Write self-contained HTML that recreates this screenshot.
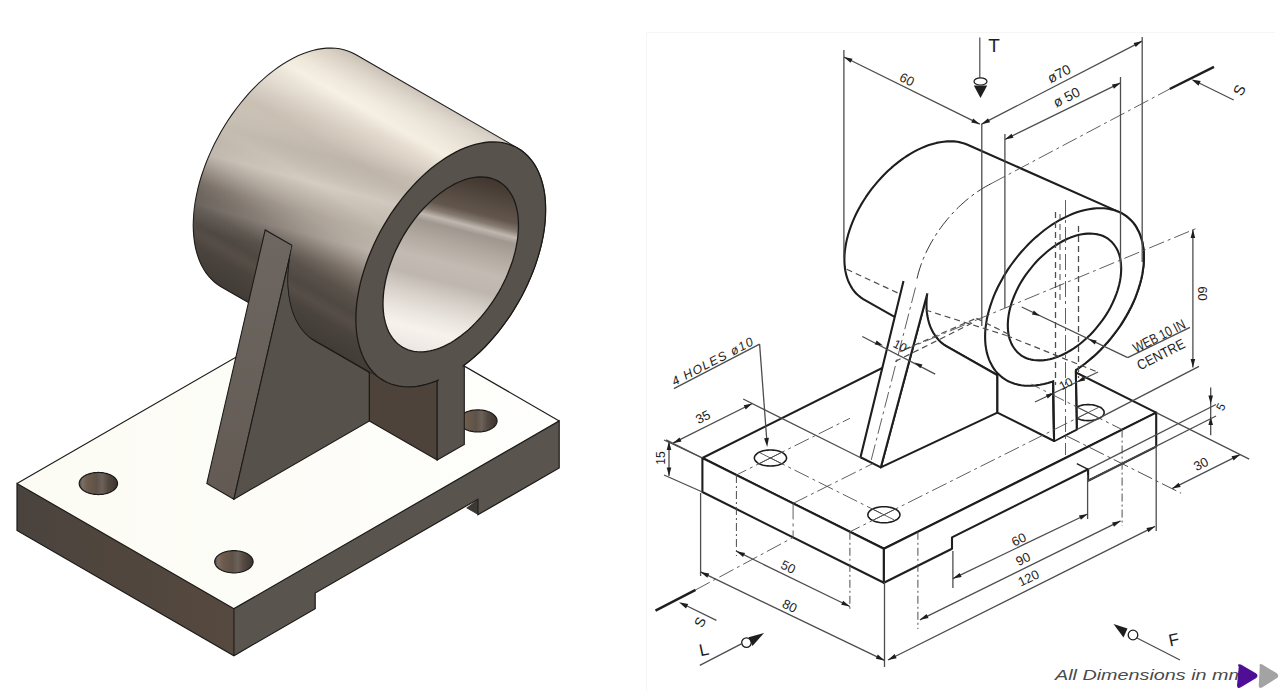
<!DOCTYPE html>
<html><head><meta charset="utf-8"><style>
html,body{margin:0;padding:0;background:#fff;width:1280px;height:691px;overflow:hidden;font-family:"Liberation Sans",sans-serif}
svg{position:absolute;left:0;top:0}
</style></head><body>
<svg width="1280" height="691" viewBox="0 0 1280 691">
<rect width="1280" height="691" fill="#fff"/>
<path d="M646.5,691 L646.5,32.5 L1275,32.5" fill="none" stroke="#f5f5f5" stroke-width="1"/>
<defs>
<linearGradient id="cyl" gradientUnits="userSpaceOnUse" x1="65.5" y1="-113.4" x2="-69.0" y2="119.5"><stop offset="0.000" stop-color="#c9c0b5"/><stop offset="0.041" stop-color="#d9d0c3"/><stop offset="0.115" stop-color="#ede5d7"/><stop offset="0.160" stop-color="#f4ede0"/><stop offset="0.208" stop-color="#e5dccf"/><stop offset="0.283" stop-color="#d4cabe"/><stop offset="0.346" stop-color="#c9bfb3"/><stop offset="0.424" stop-color="#cbc2b6"/><stop offset="0.494" stop-color="#cfc6ba"/><stop offset="0.561" stop-color="#c3b9ad"/><stop offset="0.610" stop-color="#b3a99f"/><stop offset="0.654" stop-color="#9d9389"/><stop offset="0.691" stop-color="#877d74"/><stop offset="0.736" stop-color="#6f665e"/><stop offset="0.784" stop-color="#59514a"/><stop offset="0.840" stop-color="#4f4842"/><stop offset="0.874" stop-color="#564d46"/><stop offset="0.911" stop-color="#4b443e"/><stop offset="0.955" stop-color="#46403a"/><stop offset="1.000" stop-color="#423b36"/></linearGradient>
<linearGradient id="cylband" gradientUnits="userSpaceOnUse" x1="10.4" y1="-38.6" x2="-67.6" y2="251.2"><stop offset="0" stop-color="#fff" stop-opacity="0"/><stop offset="0.15" stop-color="#fff" stop-opacity="0.18"/><stop offset="0.25" stop-color="#fff" stop-opacity="0"/><stop offset="0.35" stop-color="#000" stop-opacity="0.05"/><stop offset="0.45" stop-color="#fff" stop-opacity="0.12"/><stop offset="0.55" stop-color="#000" stop-opacity="0.06"/><stop offset="0.62" stop-color="#fff" stop-opacity="0.1"/><stop offset="0.7" stop-color="#fff" stop-opacity="0"/><stop offset="1" stop-color="#fff" stop-opacity="0"/></linearGradient>
<radialGradient id="cylshade" gradientUnits="userSpaceOnUse" cx="200" cy="270" r="80"><stop offset="0" stop-color="#3a2e26" stop-opacity="0.2"/><stop offset="1" stop-color="#3a2e26" stop-opacity="0"/></radialGradient>
<linearGradient id="bore" gradientUnits="userSpaceOnUse" x1="-12.5" y1="48.3" x2="-59.2" y2="229.1"><stop offset="0" stop-color="#40362f"/><stop offset="0.08" stop-color="#4e433a"/><stop offset="0.2" stop-color="#62564d"/><stop offset="0.24" stop-color="#857a70"/><stop offset="0.275" stop-color="#c0b8b0"/><stop offset="0.31" stop-color="#a09890"/><stop offset="0.4" stop-color="#b2aaa1"/><stop offset="0.5" stop-color="#c3bbb3"/><stop offset="0.6" stop-color="#bfb7af"/><stop offset="0.7" stop-color="#d8d1ca"/><stop offset="0.8" stop-color="#ebe6e0"/><stop offset="0.88" stop-color="#f6f2ec"/><stop offset="1" stop-color="#ebe6e1"/></linearGradient>
<linearGradient id="topf" x1="0" y1="0" x2="1" y2="0"><stop offset="0" stop-color="#fcfbf3"/><stop offset="1" stop-color="#fefefc"/></linearGradient>
<linearGradient id="hole" x1="0" y1="0" x2="1" y2="0"><stop offset="0" stop-color="#4a4440"/><stop offset="0.08" stop-color="#7a7068"/><stop offset="0.2" stop-color="#6e5c4c"/><stop offset="0.45" stop-color="#5e5248"/><stop offset="0.6" stop-color="#6c625a"/><stop offset="0.75" stop-color="#554a42"/><stop offset="1" stop-color="#3a332e"/></linearGradient>
<linearGradient id="lface" gradientUnits="userSpaceOnUse" x1="16" y1="0" x2="234" y2="0"><stop offset="0" stop-color="#4a433d"/><stop offset="1" stop-color="#56493f"/></linearGradient>
<linearGradient id="strip" x1="0" y1="0" x2="0" y2="1"><stop offset="0" stop-color="#6e6761"/><stop offset="1" stop-color="#625a53"/></linearGradient>
</defs>
<path d="M233.9,608.7 L559.2,420.9 L342.3,295.7 L17.0,483.5 Z" fill="url(#topf)"/>
<path d="M233.9,608.7 L17.0,483.5 L17.0,530.5 L233.9,655.7 Z" fill="url(#lface)"/>
<path d="M233.9,608.7 L559.2,420.9 L559.2,467.9 L477.9,514.8 L477.9,499.2 L315.2,593.0 L315.2,608.7 L233.9,655.7 Z" fill="#59544e"/>
<path d="M477.9,499.2 L477.9,514.8 L466.1,508.0 Z" fill="#3e3833"/>
<path d="M233.9,655.7 L233.9,608.7 L559.2,420.9 L559.2,467.9 L477.9,514.8 L477.9,499.2 L315.2,593.0 L315.2,608.7 L233.9,655.7 L17.0,530.5 L17.0,483.5 L233.9,608.7" fill="none" stroke="#1c1a18" stroke-width="1.2"/>
<path d="M17.0,483.5 L342.3,295.7 L559.2,420.9" fill="none" stroke="#1c1a18" stroke-width="1.1"/>
<path d="M247.5,553.9 L246.3,553.3 L245.2,552.8 L243.9,552.3 L242.6,551.9 L241.2,551.5 L239.8,551.2 L238.4,551.0 L236.9,550.8 L235.4,550.7 L233.9,550.7 L232.4,550.7 L230.9,550.8 L229.4,551.0 L228.0,551.2 L226.6,551.5 L225.2,551.9 L223.9,552.3 L222.6,552.8 L221.5,553.3 L220.3,553.9 L219.3,554.6 L218.4,555.2 L217.6,556.0 L216.8,556.7 L216.2,557.5 L215.7,558.3 L215.3,559.2 L215.0,560.0 L214.8,560.9 L214.7,561.8 L214.8,562.6 L215.0,563.5 L215.3,564.3 L215.7,565.2 L216.2,566.0 L216.8,566.8 L217.6,567.5 L218.4,568.3 L219.3,568.9 L220.3,569.6 L221.5,570.2 L222.6,570.7 L223.9,571.2 L225.2,571.6 L226.6,572.0 L228.0,572.3 L229.4,572.5 L230.9,572.7 L232.4,572.8 L233.9,572.8 L235.4,572.8 L236.9,572.7 L238.4,572.5 L239.8,572.3 L241.2,572.0 L242.6,571.6 L243.9,571.2 L245.2,570.7 L246.3,570.2 L247.5,569.6 L248.5,568.9 L249.4,568.3 L250.2,567.5 L251.0,566.8 L251.6,566.0 L252.1,565.2 L252.5,564.3 L252.8,563.5 L253.0,562.6 L253.1,561.8 L253.0,560.9 L252.8,560.0 L252.5,559.2 L252.1,558.3 L251.6,557.5 L251.0,556.7 L250.2,556.0 L249.4,555.2 L248.5,554.6 L247.5,553.9 Z" fill="url(#hole)" stroke="#1c1a18" stroke-width="1.2"/>
<path d="M111.9,475.7 L110.8,475.1 L109.6,474.5 L108.4,474.1 L107.1,473.6 L105.7,473.3 L104.3,473.0 L102.8,472.7 L101.4,472.6 L99.9,472.5 L98.4,472.4 L96.9,472.5 L95.4,472.6 L93.9,472.7 L92.4,473.0 L91.0,473.3 L89.7,473.6 L88.4,474.1 L87.1,474.5 L85.9,475.1 L84.8,475.7 L83.8,476.3 L82.9,477.0 L82.0,477.7 L81.3,478.5 L80.7,479.3 L80.1,480.1 L79.7,480.9 L79.4,481.8 L79.3,482.6 L79.2,483.5 L79.3,484.4 L79.4,485.2 L79.7,486.1 L80.1,486.9 L80.7,487.7 L81.3,488.5 L82.0,489.3 L82.9,490.0 L83.8,490.7 L84.8,491.3 L85.9,491.9 L87.1,492.5 L88.4,492.9 L89.7,493.4 L91.0,493.7 L92.4,494.0 L93.9,494.3 L95.4,494.4 L96.9,494.5 L98.4,494.6 L99.9,494.5 L101.4,494.4 L102.8,494.3 L104.3,494.0 L105.7,493.7 L107.1,493.4 L108.4,492.9 L109.6,492.5 L110.8,491.9 L111.9,491.3 L112.9,490.7 L113.9,490.0 L114.7,489.3 L115.4,488.5 L116.1,487.7 L116.6,486.9 L117.0,486.1 L117.3,485.2 L117.5,484.4 L117.5,483.5 L117.5,482.6 L117.3,481.8 L117.0,480.9 L116.6,480.1 L116.1,479.3 L115.4,478.5 L114.7,477.7 L113.9,477.0 L112.9,476.3 L111.9,475.7 Z" fill="url(#hole)" stroke="#1c1a18" stroke-width="1.2"/>
<path d="M491.4,413.1 L490.3,412.5 L489.1,411.9 L487.9,411.5 L486.6,411.0 L485.2,410.7 L483.8,410.4 L482.3,410.1 L480.9,410.0 L479.4,409.9 L477.9,409.8 L476.4,409.9 L474.9,410.0 L473.4,410.1 L471.9,410.4 L470.5,410.7 L469.2,411.0 L467.8,411.5 L466.6,411.9 L465.4,412.5 L464.3,413.1 L463.3,413.7 L462.4,414.4 L461.5,415.1 L460.8,415.9 L460.2,416.7 L459.6,417.5 L459.2,418.3 L458.9,419.2 L458.8,420.0 L458.7,420.9 L458.8,421.8 L458.9,422.6 L459.2,423.5 L459.6,424.3 L460.2,425.1 L460.8,425.9 L461.5,426.7 L462.4,427.4 L463.3,428.1 L464.3,428.7 L465.4,429.3 L466.6,429.9 L467.8,430.3 L469.2,430.8 L470.5,431.1 L471.9,431.4 L473.4,431.7 L474.9,431.8 L476.4,431.9 L477.9,432.0 L479.4,431.9 L480.9,431.8 L482.3,431.7 L483.8,431.4 L485.2,431.1 L486.6,430.8 L487.9,430.3 L489.1,429.9 L490.3,429.3 L491.4,428.7 L492.4,428.1 L493.4,427.4 L494.2,426.7 L494.9,425.9 L495.6,425.1 L496.1,424.3 L496.5,423.5 L496.8,422.6 L497.0,421.8 L497.0,420.9 L497.0,420.0 L496.8,419.2 L496.5,418.3 L496.1,417.5 L495.6,416.7 L494.9,415.9 L494.2,415.1 L493.4,414.4 L492.4,413.7 L491.4,413.1 Z" fill="url(#hole)" stroke="#1c1a18" stroke-width="1.2"/>
<path d="M355.9,334.8 L354.8,334.2 L353.6,333.7 L352.3,333.2 L351.0,332.8 L349.7,332.4 L348.2,332.1 L346.8,331.9 L345.3,331.7 L343.8,331.6 L342.3,331.6 L340.8,331.6 L339.3,331.7 L337.9,331.9 L336.4,332.1 L335.0,332.4 L333.6,332.8 L332.3,333.2 L331.1,333.7 L329.9,334.2 L328.8,334.8 L327.8,335.5 L326.8,336.1 L326.0,336.9 L325.2,337.6 L324.6,338.4 L324.1,339.2 L323.7,340.1 L323.4,340.9 L323.2,341.8 L323.2,342.7 L323.2,343.5 L323.4,344.4 L323.7,345.2 L324.1,346.1 L324.6,346.9 L325.2,347.7 L326.0,348.4 L326.8,349.2 L327.8,349.8 L328.8,350.5 L329.9,351.1 L331.1,351.6 L332.3,352.1 L333.6,352.5 L335.0,352.9 L336.4,353.2 L337.9,353.4 L339.3,353.6 L340.8,353.7 L342.3,353.7 L343.8,353.7 L345.3,353.6 L346.8,353.4 L348.2,353.2 L349.7,352.9 L351.0,352.5 L352.3,352.1 L353.6,351.6 L354.8,351.1 L355.9,350.5 L356.9,349.8 L357.8,349.2 L358.7,348.4 L359.4,347.7 L360.0,346.9 L360.6,346.1 L361.0,345.2 L361.3,344.4 L361.4,343.5 L361.5,342.7 L361.4,341.8 L361.3,340.9 L361.0,340.1 L360.6,339.2 L360.0,338.4 L359.4,337.6 L358.7,336.9 L357.8,336.1 L356.9,335.5 L355.9,334.8 Z" fill="url(#hole)" stroke="#1c1a18" stroke-width="1.2"/>
<path d="M193.2,225.3 L193.4,219.5 L193.8,213.5 L194.4,207.5 L195.3,201.3 L196.5,195.1 L197.9,188.7 L199.5,182.4 L201.4,176.0 L203.6,169.6 L205.9,163.2 L208.6,156.8 L211.4,150.4 L214.4,144.1 L217.6,137.9 L221.0,131.8 L224.6,125.7 L228.4,119.8 L232.3,114.1 L236.4,108.5 L240.7,103.0 L245.0,97.8 L249.5,92.7 L254.1,87.9 L258.8,83.2 L263.6,78.9 L268.4,74.7 L273.3,70.9 L278.2,67.3 L283.1,64.0 L288.1,61.0 L293.1,58.2 L298.0,55.8 L302.9,53.7 L307.8,52.0 L312.7,50.5 L317.4,49.4 L322.1,48.6 L326.7,48.1 L331.2,48.0 L335.6,48.2 L339.8,48.8 L343.9,49.7 L347.8,50.9 L351.6,52.4 L355.2,54.3 L517.8,148.2 L521.3,150.4 L524.5,152.9 L527.5,155.7 L530.3,158.8 L532.9,162.2 L535.3,165.9 L537.4,169.8 L539.3,174.0 L541.0,178.4 L542.4,183.1 L543.5,188.1 L544.5,193.2 L545.1,198.5 L545.5,204.0 L545.6,209.6 L545.5,215.4 L545.1,221.4 L544.5,227.4 L543.5,233.6 L542.4,239.8 L541.0,246.2 L539.3,252.5 L537.4,258.9 L535.3,265.3 L532.9,271.7 L530.3,278.1 L527.5,284.5 L524.5,290.8 L521.3,297.0 L517.8,303.1 L514.2,309.2 L510.5,315.1 L506.5,320.8 L502.4,326.4 L498.2,331.9 L493.8,337.1 L489.3,342.2 L484.8,347.0 L480.1,351.7 L475.3,356.0 L470.5,360.2 L465.6,364.0 L460.7,367.6 L455.7,370.9 L450.8,373.9 L445.8,376.7 L440.8,379.1 L435.9,381.2 L431.0,382.9 L426.2,384.4 L421.4,385.5 L416.8,386.3 L412.2,386.8 L407.7,386.9 L403.3,386.7 L399.1,386.1 L395.0,385.2 L391.1,384.0 L387.3,382.5 L383.7,380.6 L221.0,286.7 L217.6,284.5 L214.4,282.0 L211.4,279.2 L208.6,276.1 L205.9,272.7 L203.6,269.0 L201.4,265.1 L199.5,260.9 L197.9,256.4 L196.5,251.8 L195.3,246.8 L194.4,241.7 L193.8,236.4 L193.4,230.9 Z" fill="url(#cyl)" stroke="#1c1a18" stroke-width="1.1"/>
<path d="M193.2,225.3 L193.4,219.5 L193.8,213.5 L194.4,207.5 L195.3,201.3 L196.5,195.1 L197.9,188.7 L199.5,182.4 L201.4,176.0 L203.6,169.6 L205.9,163.2 L208.6,156.8 L211.4,150.4 L214.4,144.1 L217.6,137.9 L221.0,131.8 L224.6,125.7 L228.4,119.8 L232.3,114.1 L236.4,108.5 L240.7,103.0 L245.0,97.8 L249.5,92.7 L254.1,87.9 L258.8,83.2 L263.6,78.9 L268.4,74.7 L273.3,70.9 L278.2,67.3 L283.1,64.0 L288.1,61.0 L293.1,58.2 L298.0,55.8 L302.9,53.7 L307.8,52.0 L312.7,50.5 L317.4,49.4 L322.1,48.6 L326.7,48.1 L331.2,48.0 L335.6,48.2 L339.8,48.8 L343.9,49.7 L347.8,50.9 L351.6,52.4 L355.2,54.3 L517.8,148.2 L521.3,150.4 L524.5,152.9 L527.5,155.7 L530.3,158.8 L532.9,162.2 L535.3,165.9 L537.4,169.8 L539.3,174.0 L541.0,178.4 L542.4,183.1 L543.5,188.1 L544.5,193.2 L545.1,198.5 L545.5,204.0 L545.6,209.6 L545.5,215.4 L545.1,221.4 L544.5,227.4 L543.5,233.6 L542.4,239.8 L541.0,246.2 L539.3,252.5 L537.4,258.9 L535.3,265.3 L532.9,271.7 L530.3,278.1 L527.5,284.5 L524.5,290.8 L521.3,297.0 L517.8,303.1 L514.2,309.2 L510.5,315.1 L506.5,320.8 L502.4,326.4 L498.2,331.9 L493.8,337.1 L489.3,342.2 L484.8,347.0 L480.1,351.7 L475.3,356.0 L470.5,360.2 L465.6,364.0 L460.7,367.6 L455.7,370.9 L450.8,373.9 L445.8,376.7 L440.8,379.1 L435.9,381.2 L431.0,382.9 L426.2,384.4 L421.4,385.5 L416.8,386.3 L412.2,386.8 L407.7,386.9 L403.3,386.7 L399.1,386.1 L395.0,385.2 L391.1,384.0 L387.3,382.5 L383.7,380.6 L221.0,286.7 L217.6,284.5 L214.4,282.0 L211.4,279.2 L208.6,276.1 L205.9,272.7 L203.6,269.0 L201.4,265.1 L199.5,260.9 L197.9,256.4 L196.5,251.8 L195.3,246.8 L194.4,241.7 L193.8,236.4 L193.4,230.9 Z" fill="url(#cylband)"/>
<mask id="mfb" maskUnits="userSpaceOnUse" x="0" y="0" width="1280" height="691"><rect width="1280" height="691" fill="#fff"/><path d="M288.1,280.1 L288.2,274.2 L288.6,268.3 L289.3,262.2 L290.2,256.1 L291.4,249.8 L292.8,243.5 L294.4,237.2 L296.3,230.8 L298.4,224.3 L300.8,217.9 L303.4,211.6 L306.2,205.2 L309.3,198.9 L312.5,192.7 L315.9,186.5 L319.5,180.5 L323.3,174.6 L327.2,168.8 L331.3,163.2 L335.6,157.8 L339.9,152.5 L344.4,147.5 L349.0,142.6 L353.7,138.0 L358.4,133.6 L363.3,129.5 L368.1,125.6 L373.1,122.0 L378.0,118.7 L383.0,115.7 L387.9,113.0 L392.9,110.6 L397.8,108.5 L402.7,106.7 L407.5,105.3 L412.3,104.2 L417.0,103.4 L421.6,102.9 L426.1,102.8 L430.4,103.0 L434.7,103.6 L438.8,104.5 L442.7,105.7 L446.5,107.2 L450.1,109.1 L517.8,148.2 L521.3,150.4 L524.5,152.9 L527.5,155.7 L530.3,158.8 L532.9,162.2 L535.3,165.9 L537.4,169.8 L539.3,174.0 L541.0,178.4 L542.4,183.1 L543.5,188.1 L544.5,193.2 L545.1,198.5 L545.5,204.0 L545.6,209.6 L545.5,215.4 L545.1,221.4 L544.5,227.4 L543.5,233.6 L542.4,239.8 L541.0,246.2 L539.3,252.5 L537.4,258.9 L535.3,265.3 L532.9,271.7 L530.3,278.1 L527.5,284.5 L524.5,290.8 L521.3,297.0 L517.8,303.1 L514.2,309.2 L510.5,315.1 L506.5,320.8 L502.4,326.4 L498.2,331.9 L493.8,337.1 L489.3,342.2 L484.8,347.0 L480.1,351.7 L475.3,356.0 L470.5,360.2 L465.6,364.0 L460.7,367.6 L455.7,370.9 L450.8,373.9 L445.8,376.7 L440.8,379.1 L435.9,381.2 L431.0,382.9 L426.2,384.4 L421.4,385.5 L416.8,386.3 L412.2,386.8 L407.7,386.9 L403.3,386.7 L399.1,386.1 L395.0,385.2 L391.1,384.0 L387.3,382.5 L383.7,380.6 L315.9,341.5 L312.5,339.3 L309.3,336.8 L306.2,334.0 L303.4,330.9 L300.8,327.5 L298.4,323.8 L296.3,319.9 L294.4,315.7 L292.8,311.2 L291.4,306.5 L290.2,301.6 L289.3,296.5 L288.6,291.2 L288.2,285.7 Z" fill="#000"/></mask>
<g mask="url(#mfb)">
<path d="M233.9,499.2 L206.8,483.5 L265.2,229.9 L292.3,245.5 Z" fill="url(#strip)" stroke="#1c1a18" stroke-width="1.1"/>
<path d="M233.9,499.2 L369.4,420.9 L369.4,341.5 L369.4,341.5 L365.4,343.1 L361.4,344.4 L357.4,345.5 L353.5,346.4 L349.7,347.1 L345.9,347.5 L342.1,347.7 L338.5,347.7 L334.9,347.5 L331.4,347.0 L328.0,346.3 L324.8,345.4 L321.6,344.2 L318.5,342.9 L315.6,341.3 L312.8,339.5 L310.1,337.5 L307.5,335.2 L305.1,332.8 L302.9,330.2 L300.7,327.4 L298.8,324.4 L297.0,321.2 L295.3,317.8 L293.8,314.2 L292.5,310.5 L291.4,306.7 L290.4,302.6 L289.6,298.5 L289.0,294.2 L288.5,289.7 L288.2,285.2 L288.1,280.5 L288.2,275.8 L288.4,270.9 L288.9,266.0 L289.5,261.0 L290.2,255.9 L291.2,250.7 L292.3,245.5 Z" fill="#56514b" stroke="#1c1a18" stroke-width="1.1"/>
<path d="M369.4,420.9 L437.2,460.0 L437.2,380.7 L369.4,341.5 Z" fill="#4e433b" stroke="#1c1a18" stroke-width="1.1"/>
<path d="M437.2,460.0 L464.3,444.4 L464.3,365.0 L437.2,380.7 Z" fill="#57524c" stroke="#1c1a18" stroke-width="1.1"/>
</g>
<clipPath id="cside"><path d="M233.9,499.2 L369.4,420.9 L369.4,341.5 L369.4,341.5 L365.4,343.1 L361.4,344.4 L357.4,345.5 L353.5,346.4 L349.7,347.1 L345.9,347.5 L342.1,347.7 L338.5,347.7 L334.9,347.5 L331.4,347.0 L328.0,346.3 L324.8,345.4 L321.6,344.2 L318.5,342.9 L315.6,341.3 L312.8,339.5 L310.1,337.5 L307.5,335.2 L305.1,332.8 L302.9,330.2 L300.7,327.4 L298.8,324.4 L297.0,321.2 L295.3,317.8 L293.8,314.2 L292.5,310.5 L291.4,306.7 L290.4,302.6 L289.6,298.5 L289.0,294.2 L288.5,289.7 L288.2,285.2 L288.1,280.5 L288.2,275.8 L288.4,270.9 L288.9,266.0 L289.5,261.0 L290.2,255.9 L291.2,250.7 L292.3,245.5 Z"/></clipPath>
<path d="M288.1,280.1 L288.2,274.2 L288.6,268.3 L289.3,262.2 L290.2,256.1 L291.4,249.8 L292.8,243.5 L294.4,237.2 L296.3,230.8 L298.4,224.3 L300.8,217.9 L303.4,211.6 L306.2,205.2 L309.3,198.9 L312.5,192.7 L315.9,186.5 L319.5,180.5 L323.3,174.6 L327.2,168.8 L331.3,163.2 L335.6,157.8 L339.9,152.5 L344.4,147.5 L349.0,142.6 L353.7,138.0 L358.4,133.6 L363.3,129.5 L368.1,125.6 L373.1,122.0 L378.0,118.7 L383.0,115.7 L387.9,113.0 L392.9,110.6 L397.8,108.5 L402.7,106.7 L407.5,105.3 L412.3,104.2 L417.0,103.4 L421.6,102.9 L426.1,102.8 L430.4,103.0 L434.7,103.6 L438.8,104.5 L442.7,105.7 L446.5,107.2 L450.1,109.1 L517.8,148.2 L521.3,150.4 L524.5,152.9 L527.5,155.7 L530.3,158.8 L532.9,162.2 L535.3,165.9 L537.4,169.8 L539.3,174.0 L541.0,178.4 L542.4,183.1 L543.5,188.1 L544.5,193.2 L545.1,198.5 L545.5,204.0 L545.6,209.6 L545.5,215.4 L545.1,221.4 L544.5,227.4 L543.5,233.6 L542.4,239.8 L541.0,246.2 L539.3,252.5 L537.4,258.9 L535.3,265.3 L532.9,271.7 L530.3,278.1 L527.5,284.5 L524.5,290.8 L521.3,297.0 L517.8,303.1 L514.2,309.2 L510.5,315.1 L506.5,320.8 L502.4,326.4 L498.2,331.9 L493.8,337.1 L489.3,342.2 L484.8,347.0 L480.1,351.7 L475.3,356.0 L470.5,360.2 L465.6,364.0 L460.7,367.6 L455.7,370.9 L450.8,373.9 L445.8,376.7 L440.8,379.1 L435.9,381.2 L431.0,382.9 L426.2,384.4 L421.4,385.5 L416.8,386.3 L412.2,386.8 L407.7,386.9 L403.3,386.7 L399.1,386.1 L395.0,385.2 L391.1,384.0 L387.3,382.5 L383.7,380.6 L315.9,341.5 L312.5,339.3 L309.3,336.8 L306.2,334.0 L303.4,330.9 L300.8,327.5 L298.4,323.8 L296.3,319.9 L294.4,315.7 L292.8,311.2 L291.4,306.5 L290.2,301.6 L289.3,296.5 L288.6,291.2 L288.2,285.7 Z" fill="none" stroke="#1c1a18" stroke-width="1.3" clip-path="url(#cside)"/>
<path d="M545.6,209.6 L545.5,204.0 L545.1,198.5 L544.5,193.2 L543.6,188.0 L542.4,183.1 L541.0,178.5 L539.3,174.0 L537.4,169.8 L535.3,165.9 L532.9,162.2 L530.3,158.8 L527.5,155.7 L524.5,152.9 L521.3,150.4 L517.8,148.2 L514.2,146.3 L510.5,144.8 L506.5,143.6 L502.4,142.7 L498.2,142.1 L493.8,141.9 L489.3,142.0 L484.8,142.5 L480.1,143.3 L475.3,144.4 L470.5,145.9 L465.6,147.6 L460.7,149.7 L455.7,152.1 L450.8,154.9 L445.8,157.9 L440.8,161.2 L435.9,164.8 L431.0,168.6 L426.2,172.8 L421.4,177.1 L416.8,181.8 L412.2,186.6 L407.7,191.7 L403.3,196.9 L399.1,202.4 L395.0,208.0 L391.0,213.7 L387.3,219.6 L383.7,225.7 L380.2,231.8 L377.0,238.0 L374.0,244.3 L371.2,250.7 L368.6,257.1 L366.2,263.5 L364.1,269.9 L362.2,276.3 L360.5,282.6 L359.1,289.0 L358.0,295.2 L357.0,301.4 L356.4,307.4 L356.0,313.4 L355.9,319.2 L356.0,324.8 L356.4,330.3 L357.0,335.6 L358.0,340.8 L359.1,345.7 L360.5,350.3 L362.2,354.8 L364.1,359.0 L366.2,362.9 L368.6,366.6 L371.2,370.0 L374.0,373.1 L377.0,375.9 L380.2,378.4 L383.7,380.6 L387.3,382.5 L391.0,384.0 L395.0,385.2 L399.1,386.1 L403.3,386.7 L407.7,386.9 L412.2,386.8 L416.8,386.3 L421.4,385.5 L426.2,384.4 L431.0,382.9 L435.9,381.2 L440.8,379.1 L445.8,376.7 L450.8,374.0 L455.7,370.9 L460.7,367.6 L465.6,364.0 L470.5,360.2 L475.3,356.0 L480.1,351.7 L484.8,347.0 L489.3,342.2 L493.8,337.1 L498.2,331.9 L502.4,326.4 L506.5,320.8 L510.5,315.1 L514.2,309.2 L517.8,303.1 L521.3,297.0 L524.5,290.8 L527.5,284.5 L530.3,278.1 L532.9,271.7 L535.3,265.3 L537.4,258.9 L539.3,252.5 L541.0,246.2 L542.4,239.8 L543.6,233.6 L544.5,227.4 L545.1,221.4 L545.5,215.4 L545.6,209.6 Z" fill="#57524c" stroke="#1c1a18" stroke-width="1.3"/>
<path d="M518.5,225.3 L518.4,221.2 L518.1,217.3 L517.7,213.5 L517.0,209.9 L516.2,206.4 L515.2,203.0 L514.0,199.8 L512.7,196.8 L511.1,194.0 L509.4,191.4 L507.6,189.0 L505.6,186.8 L503.4,184.7 L501.1,183.0 L498.7,181.4 L496.1,180.1 L493.4,179.0 L490.6,178.1 L487.7,177.5 L484.6,177.1 L481.5,176.9 L478.3,177.0 L475.0,177.3 L471.7,177.9 L468.3,178.7 L464.8,179.7 L461.4,181.0 L457.8,182.5 L454.3,184.2 L450.8,186.2 L447.2,188.3 L443.7,190.7 L440.2,193.2 L436.7,196.0 L433.2,198.9 L429.8,202.1 L426.5,205.4 L423.2,208.8 L420.0,212.4 L416.9,216.2 L413.8,220.1 L410.9,224.1 L408.1,228.2 L405.4,232.4 L402.8,236.7 L400.4,241.1 L398.1,245.6 L395.9,250.1 L393.9,254.6 L392.1,259.2 L390.4,263.7 L388.8,268.3 L387.5,272.9 L386.3,277.4 L385.3,281.9 L384.5,286.4 L383.8,290.8 L383.4,295.1 L383.1,299.4 L383.0,303.5 L383.1,307.6 L383.4,311.5 L383.8,315.3 L384.5,318.9 L385.3,322.4 L386.3,325.8 L387.5,329.0 L388.8,332.0 L390.4,334.8 L392.1,337.4 L393.9,339.8 L395.9,342.0 L398.1,344.1 L400.4,345.8 L402.8,347.4 L405.4,348.7 L408.1,349.8 L410.9,350.7 L413.8,351.3 L416.9,351.7 L420.0,351.9 L423.2,351.8 L426.5,351.5 L429.8,350.9 L433.2,350.1 L436.7,349.1 L440.2,347.8 L443.7,346.3 L447.2,344.6 L450.8,342.7 L454.3,340.5 L457.8,338.1 L461.4,335.6 L464.8,332.8 L468.3,329.9 L471.7,326.7 L475.0,323.4 L478.3,320.0 L481.5,316.4 L484.6,312.6 L487.7,308.7 L490.6,304.7 L493.4,300.6 L496.1,296.4 L498.7,292.1 L501.1,287.7 L503.4,283.2 L505.6,278.7 L507.6,274.2 L509.4,269.6 L511.1,265.1 L512.7,260.5 L514.0,255.9 L515.2,251.4 L516.2,246.9 L517.0,242.4 L517.7,238.0 L518.1,233.7 L518.4,229.4 L518.5,225.3 Z" fill="url(#bore)" stroke="#1c1a18" stroke-width="1.3"/>
<path d="M438.8,457.5 L462.7,443.7 L462.7,356.6 L438.8,370.3 Z" fill="#57524c"/>
<path d="M883.9,548.8 L1156.2,412.6 L974.7,321.8 L702.4,458.0 Z" fill="#fff" stroke="#1e1e1e" stroke-width="2.1" stroke-linejoin="round"/>
<path d="M883.9,548.8 L702.4,458.0 L702.4,492.0 L883.9,582.8 Z" fill="#fff" stroke="#1e1e1e" stroke-width="2.1" stroke-linejoin="round"/>
<path d="M883.9,548.8 L1156.2,412.6 L1156.2,446.6 L1088.1,480.7 L1088.1,469.3 L952.0,537.4 L952.0,548.8 L883.9,582.8 Z" fill="#fff" stroke="#1e1e1e" stroke-width="2.1" stroke-linejoin="round"/>
<path d="M1088.1,469.3 L1076.8,463.7" fill="none" stroke="#1e1e1e" stroke-width="1.3"/>
<path d="M895.2,509.1 L894.0,508.5 L892.6,508.0 L891.2,507.6 L889.6,507.3 L888.1,507.0 L886.4,506.8 L884.7,506.7 L883.1,506.7 L881.4,506.8 L879.7,507.0 L878.2,507.3 L876.6,507.6 L875.2,508.0 L873.8,508.5 L872.6,509.1 L871.4,509.7 L870.4,510.4 L869.6,511.1 L868.9,511.9 L868.4,512.7 L868.1,513.5 L867.9,514.3 L867.9,515.2 L868.1,516.0 L868.4,516.8 L868.9,517.6 L869.6,518.4 L870.4,519.1 L871.4,519.8 L872.6,520.4 L873.8,521.0 L875.2,521.5 L876.6,521.9 L878.2,522.2 L879.7,522.5 L881.4,522.7 L883.1,522.8 L884.7,522.8 L886.4,522.7 L888.1,522.5 L889.6,522.2 L891.2,521.9 L892.6,521.5 L894.0,521.0 L895.2,520.4 L896.4,519.8 L897.4,519.1 L898.2,518.4 L898.9,517.6 L899.4,516.8 L899.7,516.0 L899.9,515.2 L899.9,514.3 L899.7,513.5 L899.4,512.7 L898.9,511.9 L898.2,511.1 L897.4,510.4 L896.4,509.7 L895.2,509.1 Z" fill="#fff" stroke="#1e1e1e" stroke-width="1.6"/>
<path d="M873.5,520.0 L894.3,509.5" stroke="#4d4d4d" stroke-width="0.9" fill="none"/>
<path d="M894.3,520.0 L873.5,509.5" stroke="#4d4d4d" stroke-width="0.9" fill="none"/>
<path d="M781.8,452.3 L780.5,451.8 L779.2,451.3 L777.7,450.8 L776.2,450.5 L774.6,450.2 L773.0,450.1 L771.3,450.0 L769.6,450.0 L767.9,450.1 L766.3,450.2 L764.7,450.5 L763.2,450.8 L761.7,451.3 L760.4,451.8 L759.1,452.3 L758.0,452.9 L757.0,453.6 L756.2,454.4 L755.5,455.1 L755.0,455.9 L754.6,456.7 L754.4,457.6 L754.4,458.4 L754.6,459.3 L755.0,460.1 L755.5,460.9 L756.2,461.6 L757.0,462.4 L758.0,463.1 L759.1,463.7 L760.4,464.2 L761.7,464.7 L763.2,465.2 L764.7,465.5 L766.3,465.8 L767.9,465.9 L769.6,466.0 L771.3,466.0 L773.0,465.9 L774.6,465.8 L776.2,465.5 L777.7,465.2 L779.2,464.7 L780.5,464.2 L781.8,463.7 L782.9,463.1 L783.9,462.4 L784.7,461.6 L785.4,460.9 L785.9,460.1 L786.3,459.3 L786.5,458.4 L786.5,457.6 L786.3,456.7 L785.9,455.9 L785.4,455.1 L784.7,454.4 L783.9,453.6 L782.9,452.9 L781.8,452.3 Z" fill="#fff" stroke="#1e1e1e" stroke-width="1.6"/>
<path d="M760.0,463.2 L780.9,452.8" stroke="#4d4d4d" stroke-width="0.9" fill="none"/>
<path d="M780.9,463.2 L760.0,452.8" stroke="#4d4d4d" stroke-width="0.9" fill="none"/>
<path d="M1099.5,406.9 L1098.2,406.4 L1096.8,405.9 L1095.4,405.4 L1093.9,405.1 L1092.3,404.8 L1090.6,404.7 L1088.9,404.6 L1087.3,404.6 L1085.6,404.7 L1084.0,404.8 L1082.4,405.1 L1080.8,405.4 L1079.4,405.9 L1078.0,406.4 L1076.8,406.9 L1075.6,407.5 L1074.7,408.2 L1073.8,409.0 L1073.1,409.7 L1072.6,410.5 L1072.3,411.3 L1072.1,412.2 L1072.1,413.0 L1072.3,413.9 L1072.6,414.7 L1073.1,415.5 L1073.8,416.2 L1074.7,417.0 L1075.6,417.7 L1076.8,418.3 L1078.0,418.8 L1079.4,419.3 L1080.8,419.8 L1082.4,420.1 L1084.0,420.4 L1085.6,420.5 L1087.3,420.6 L1088.9,420.6 L1090.6,420.5 L1092.3,420.4 L1093.9,420.1 L1095.4,419.8 L1096.8,419.3 L1098.2,418.8 L1099.5,418.3 L1100.6,417.7 L1101.6,417.0 L1102.4,416.2 L1103.1,415.5 L1103.6,414.7 L1104.0,413.9 L1104.1,413.0 L1104.1,412.2 L1104.0,411.3 L1103.6,410.5 L1103.1,409.7 L1102.4,409.0 L1101.6,408.2 L1100.6,407.5 L1099.5,406.9 Z" fill="#fff" stroke="#1e1e1e" stroke-width="1.6"/>
<path d="M1077.7,417.8 L1098.5,407.4" stroke="#4d4d4d" stroke-width="0.9" fill="none"/>
<path d="M1098.5,417.8 L1077.7,407.4" stroke="#4d4d4d" stroke-width="0.9" fill="none"/>
<path d="M986.0,350.2 L984.8,349.6 L983.4,349.1 L981.9,348.7 L980.4,348.4 L978.8,348.1 L977.2,347.9 L975.5,347.8 L973.8,347.8 L972.2,347.9 L970.5,348.1 L968.9,348.4 L967.4,348.7 L965.9,349.1 L964.6,349.6 L963.3,350.2 L962.2,350.8 L961.2,351.5 L960.4,352.2 L959.7,353.0 L959.2,353.8 L958.8,354.6 L958.6,355.4 L958.6,356.3 L958.8,357.1 L959.2,357.9 L959.7,358.7 L960.4,359.5 L961.2,360.2 L962.2,360.9 L963.3,361.5 L964.6,362.1 L965.9,362.6 L967.4,363.0 L968.9,363.3 L970.5,363.6 L972.2,363.8 L973.8,363.9 L975.5,363.9 L977.2,363.8 L978.8,363.6 L980.4,363.3 L981.9,363.0 L983.4,362.6 L984.8,362.1 L986.0,361.5 L987.1,360.9 L988.1,360.2 L989.0,359.5 L989.6,358.7 L990.2,357.9 L990.5,357.1 L990.7,356.3 L990.7,355.4 L990.5,354.6 L990.2,353.8 L989.6,353.0 L989.0,352.2 L988.1,351.5 L987.1,350.8 L986.0,350.2 Z" fill="#fff" stroke="#1e1e1e" stroke-width="1.6"/>
<path d="M964.2,361.1 L985.1,350.6" stroke="#4d4d4d" stroke-width="0.9" fill="none"/>
<path d="M985.1,361.1 L964.2,350.6" stroke="#4d4d4d" stroke-width="0.9" fill="none"/>
<path d="M844.4,259.6 L844.5,255.7 L844.8,251.7 L845.3,247.7 L846.0,243.6 L846.9,239.4 L848.0,235.2 L849.3,230.9 L850.8,226.7 L852.4,222.4 L854.2,218.1 L856.2,213.8 L858.4,209.6 L860.7,205.4 L863.2,201.2 L865.8,197.2 L868.6,193.1 L871.5,189.2 L874.6,185.3 L877.7,181.6 L881.0,178.0 L884.3,174.5 L887.8,171.1 L891.3,167.9 L894.9,164.8 L898.6,161.9 L902.3,159.1 L906.1,156.5 L909.9,154.1 L913.7,151.9 L917.5,149.9 L921.3,148.1 L925.1,146.5 L928.9,145.1 L932.7,143.9 L936.4,142.9 L940.1,142.2 L943.7,141.7 L947.2,141.4 L950.7,141.3 L954.0,141.4 L957.3,141.8 L960.4,142.4 L963.5,143.2 L966.4,144.2 L1117.6,211.4 L1120.7,212.7 L1123.5,214.3 L1126.2,216.1 L1128.8,218.2 L1131.1,220.4 L1133.3,222.9 L1135.3,225.5 L1137.0,228.4 L1138.6,231.4 L1140.0,234.7 L1141.2,238.1 L1142.2,241.6 L1142.9,245.3 L1143.5,249.2 L1143.8,253.2 L1143.9,257.3 L1143.9,257.3 L1143.8,261.5 L1143.5,265.8 L1142.9,270.2 L1142.2,274.7 L1141.2,279.2 L1140.0,283.8 L1138.6,288.4 L1137.0,293.0 L1135.3,297.7 L1133.3,302.3 L1131.1,307.0 L1128.8,311.6 L1126.2,316.1 L1123.5,320.6 L1120.7,325.1 L1117.6,329.5 L1114.5,333.7 L1111.2,337.9 L1107.8,342.0 L1104.2,345.9 L1100.5,349.8 L1096.8,353.4 L1093.0,356.9 L1089.0,360.3 L1085.0,363.5 L1081.0,366.4 L1076.9,369.3 L1072.8,371.9 L1068.7,374.3 L1064.5,376.4 L1060.3,378.4 L1056.2,380.2 L1052.1,381.7 L1048.0,383.0 L1044.0,384.0 L1040.0,384.8 L1036.0,385.4 L1032.2,385.7 L1028.5,385.8 L1024.8,385.7 L1021.2,385.3 L1017.8,384.6 L1014.5,383.7 L1011.4,382.6 L1008.4,381.3 L1005.5,379.7 L863.2,299.1 L860.7,297.4 L858.4,295.5 L856.2,293.5 L854.2,291.2 L852.4,288.8 L850.8,286.1 L849.3,283.3 L848.0,280.4 L846.9,277.2 L846.0,273.9 L845.3,270.5 L844.8,267.0 L844.5,263.3 Z" fill="#fff" stroke="#1e1e1e" stroke-width="2.1" stroke-linejoin="round"/>
<mask id="rmfb" maskUnits="userSpaceOnUse" x="0" y="0" width="1280" height="691"><rect width="1280" height="691" fill="#fff"/><path d="M926.5,304.6 L926.6,300.5 L926.9,296.3 L927.4,292.1 L928.2,287.8 L929.1,283.4 L930.2,279.0 L931.6,274.5 L933.1,270.0 L934.9,265.5 L936.8,261.0 L938.9,256.5 L941.1,252.1 L943.6,247.7 L946.2,243.3 L949.0,239.0 L951.9,234.8 L954.9,230.7 L958.1,226.6 L961.4,222.7 L964.9,218.8 L968.4,215.2 L972.0,211.6 L975.7,208.2 L979.5,205.0 L983.4,201.9 L987.3,199.0 L991.2,196.3 L995.2,193.8 L999.2,191.5 L1003.2,189.4 L1007.3,187.5 L1011.3,185.8 L1015.3,184.3 L1019.2,183.1 L1023.1,182.0 L1027.0,181.3 L1030.8,180.7 L1034.5,180.4 L1038.1,180.3 L1041.6,180.4 L1045.1,180.8 L1048.4,181.5 L1051.6,182.3 L1054.6,183.4 L1117.6,211.4 L1120.7,212.7 L1123.5,214.3 L1126.2,216.1 L1128.8,218.2 L1131.1,220.4 L1133.3,222.9 L1135.3,225.5 L1137.0,228.4 L1138.6,231.4 L1140.0,234.7 L1141.2,238.1 L1142.2,241.6 L1142.9,245.3 L1143.5,249.2 L1143.8,253.2 L1143.9,257.3 L1143.9,257.3 L1143.8,261.5 L1143.5,265.8 L1142.9,270.2 L1142.2,274.7 L1141.2,279.2 L1140.0,283.8 L1138.6,288.4 L1137.0,293.0 L1135.3,297.7 L1133.3,302.3 L1131.1,307.0 L1128.8,311.6 L1126.2,316.1 L1123.5,320.6 L1120.7,325.1 L1117.6,329.5 L1114.5,333.7 L1111.2,337.9 L1107.8,342.0 L1104.2,345.9 L1100.5,349.8 L1096.8,353.4 L1093.0,356.9 L1089.0,360.3 L1085.0,363.5 L1081.0,366.4 L1076.9,369.3 L1072.8,371.9 L1068.7,374.3 L1064.5,376.4 L1060.3,378.4 L1056.2,380.2 L1052.1,381.7 L1048.0,383.0 L1044.0,384.0 L1040.0,384.8 L1036.0,385.4 L1032.2,385.7 L1028.5,385.8 L1024.8,385.7 L1021.2,385.3 L1017.8,384.6 L1014.5,383.7 L1011.4,382.6 L1008.4,381.3 L1005.5,379.7 L946.2,346.1 L943.6,344.3 L941.1,342.4 L938.9,340.2 L936.8,337.8 L934.9,335.2 L933.1,332.5 L931.6,329.5 L930.2,326.4 L929.1,323.1 L928.2,319.7 L927.4,316.1 L926.9,312.4 L926.6,308.5 Z" fill="#000"/></mask>
<g mask="url(#rmfb)">
<path d="M880.8,467.4 L997.4,412.6 L997.4,352.9 L997.4,290.0 L927.4,293.2 Z" fill="#fff"/>
<path d="M927.4,293.2 L880.8,467.4 L997.4,412.6 L997.4,352.9" fill="none" stroke="#1e1e1e" stroke-width="2.1" stroke-linejoin="round"/>
<path d="M903.5,281.0 L927.4,293.2 L880.8,467.4 L860.5,457.3 Z" fill="#fff"/>
<path d="M903.5,281.0 L860.5,457.3 L880.8,467.4 L927.4,293.2" fill="none" stroke="#1e1e1e" stroke-width="2.1" stroke-linejoin="round"/>
</g>
<clipPath id="rcside"><path d="M880.8,467.4 L997.4,412.6 L997.4,352.9 L997.4,290.0 L927.4,293.2 Z"/></clipPath>
<path d="M926.5,304.6 L926.6,300.5 L926.9,296.3 L927.4,292.1 L928.2,287.8 L929.1,283.4 L930.2,279.0 L931.6,274.5 L933.1,270.0 L934.9,265.5 L936.8,261.0 L938.9,256.5 L941.1,252.1 L943.6,247.7 L946.2,243.3 L949.0,239.0 L951.9,234.8 L954.9,230.7 L958.1,226.6 L961.4,222.7 L964.9,218.8 L968.4,215.2 L972.0,211.6 L975.7,208.2 L979.5,205.0 L983.4,201.9 L987.3,199.0 L991.2,196.3 L995.2,193.8 L999.2,191.5 L1003.2,189.4 L1007.3,187.5 L1011.3,185.8 L1015.3,184.3 L1019.2,183.1 L1023.1,182.0 L1027.0,181.3 L1030.8,180.7 L1034.5,180.4 L1038.1,180.3 L1041.6,180.4 L1045.1,180.8 L1048.4,181.5 L1051.6,182.3 L1054.6,183.4 L1117.6,211.4 L1120.7,212.7 L1123.5,214.3 L1126.2,216.1 L1128.8,218.2 L1131.1,220.4 L1133.3,222.9 L1135.3,225.5 L1137.0,228.4 L1138.6,231.4 L1140.0,234.7 L1141.2,238.1 L1142.2,241.6 L1142.9,245.3 L1143.5,249.2 L1143.8,253.2 L1143.9,257.3 L1143.9,257.3 L1143.8,261.5 L1143.5,265.8 L1142.9,270.2 L1142.2,274.7 L1141.2,279.2 L1140.0,283.8 L1138.6,288.4 L1137.0,293.0 L1135.3,297.7 L1133.3,302.3 L1131.1,307.0 L1128.8,311.6 L1126.2,316.1 L1123.5,320.6 L1120.7,325.1 L1117.6,329.5 L1114.5,333.7 L1111.2,337.9 L1107.8,342.0 L1104.2,345.9 L1100.5,349.8 L1096.8,353.4 L1093.0,356.9 L1089.0,360.3 L1085.0,363.5 L1081.0,366.4 L1076.9,369.3 L1072.8,371.9 L1068.7,374.3 L1064.5,376.4 L1060.3,378.4 L1056.2,380.2 L1052.1,381.7 L1048.0,383.0 L1044.0,384.0 L1040.0,384.8 L1036.0,385.4 L1032.2,385.7 L1028.5,385.8 L1024.8,385.7 L1021.2,385.3 L1017.8,384.6 L1014.5,383.7 L1011.4,382.6 L1008.4,381.3 L1005.5,379.7 L946.2,346.1 L943.6,344.3 L941.1,342.4 L938.9,340.2 L936.8,337.8 L934.9,335.2 L933.1,332.5 L931.6,329.5 L930.2,326.4 L929.1,323.1 L928.2,319.7 L927.4,316.1 L926.9,312.4 L926.6,308.5 Z" fill="none" stroke="#1e1e1e" stroke-width="2.1" clip-path="url(#rcside)"/>
<path d="M997.4,412.6 L1054.1,441.0 L1053.2,381.3 L997.4,352.9 Z" fill="#fff" stroke="#1e1e1e" stroke-width="2.1" stroke-linejoin="round"/>
<path d="M1054.1,441.0 L1076.8,429.6 L1075.8,370.0 L1053.2,381.3 Z" fill="#fff" stroke="#1e1e1e" stroke-width="2.1" stroke-linejoin="round"/>
<path d="M1143.9,257.3 L1143.8,253.2 L1143.5,249.2 L1142.9,245.3 L1142.2,241.6 L1141.2,238.1 L1140.0,234.7 L1138.6,231.4 L1137.0,228.4 L1135.3,225.5 L1133.3,222.9 L1131.1,220.4 L1128.7,218.2 L1126.2,216.1 L1123.5,214.3 L1120.7,212.7 L1117.6,211.4 L1114.5,210.3 L1111.2,209.4 L1107.8,208.7 L1104.2,208.3 L1100.6,208.2 L1096.8,208.3 L1093.0,208.6 L1089.0,209.2 L1085.1,210.0 L1081.0,211.0 L1076.9,212.3 L1072.8,213.8 L1068.7,215.6 L1064.5,217.6 L1060.3,219.7 L1056.2,222.1 L1052.1,224.7 L1048.0,227.5 L1043.9,230.5 L1040.0,233.7 L1036.0,237.1 L1032.2,240.6 L1028.4,244.2 L1024.8,248.1 L1021.2,252.0 L1017.8,256.1 L1014.5,260.3 L1011.4,264.5 L1008.3,268.9 L1005.5,273.4 L1002.8,277.9 L1000.3,282.4 L997.9,287.0 L995.7,291.7 L993.7,296.3 L992.0,301.0 L990.4,305.6 L989.0,310.2 L987.8,314.8 L986.8,319.3 L986.1,323.8 L985.5,328.2 L985.2,332.5 L985.1,336.7 L985.2,340.8 L985.5,344.8 L986.1,348.7 L986.8,352.4 L987.8,355.9 L989.0,359.3 L990.4,362.6 L992.0,365.6 L993.7,368.5 L995.7,371.1 L997.9,373.6 L1000.3,375.8 L1002.8,377.9 L1005.5,379.7 L1008.3,381.3 L1011.4,382.6 L1014.5,383.7 L1017.8,384.6 L1021.2,385.3 L1024.8,385.7 L1028.4,385.8 L1032.2,385.7 L1036.0,385.4 L1040.0,384.8 L1043.9,384.0 L1048.0,383.0 L1052.1,381.7 L1056.2,380.2 L1060.3,378.4 L1064.5,376.4 L1068.7,374.3 L1072.8,371.9 L1076.9,369.3 L1081.0,366.5 L1085.1,363.5 L1089.0,360.3 L1093.0,356.9 L1096.8,353.4 L1100.6,349.8 L1104.2,345.9 L1107.8,342.0 L1111.2,337.9 L1114.5,333.7 L1117.6,329.5 L1120.7,325.1 L1123.5,320.6 L1126.2,316.1 L1128.7,311.6 L1131.1,307.0 L1133.3,302.3 L1135.3,297.7 L1137.0,293.0 L1138.6,288.4 L1140.0,283.8 L1141.2,279.2 L1142.2,274.7 L1142.9,270.2 L1143.5,265.8 L1143.8,261.5 L1143.9,257.3 Z" fill="#fff" stroke="#1e1e1e" stroke-width="2.1" stroke-linejoin="round"/>
<path d="M1121.2,268.6 L1121.1,265.7 L1120.9,262.8 L1120.5,260.1 L1120.0,257.4 L1119.3,254.9 L1118.4,252.5 L1117.5,250.2 L1116.3,248.0 L1115.0,246.0 L1113.6,244.1 L1112.1,242.3 L1110.4,240.7 L1108.6,239.2 L1106.7,237.9 L1104.6,236.8 L1102.5,235.8 L1100.2,235.0 L1097.8,234.4 L1095.4,234.0 L1092.9,233.7 L1090.3,233.6 L1087.6,233.6 L1084.8,233.9 L1082.0,234.3 L1079.2,234.8 L1076.3,235.6 L1073.4,236.5 L1070.4,237.6 L1067.5,238.8 L1064.5,240.2 L1061.5,241.8 L1058.6,243.5 L1055.6,245.4 L1052.7,247.4 L1049.8,249.5 L1047.0,251.8 L1044.2,254.2 L1041.4,256.7 L1038.7,259.3 L1036.1,262.0 L1033.6,264.9 L1031.2,267.8 L1028.8,270.8 L1026.5,273.8 L1024.4,276.9 L1022.3,280.1 L1020.4,283.3 L1018.6,286.6 L1016.9,289.9 L1015.4,293.2 L1014.0,296.5 L1012.7,299.8 L1011.5,303.2 L1010.6,306.4 L1009.7,309.7 L1009.0,313.0 L1008.5,316.1 L1008.1,319.3 L1007.9,322.4 L1007.8,325.4 L1007.9,328.3 L1008.1,331.2 L1008.5,333.9 L1009.0,336.6 L1009.7,339.1 L1010.6,341.5 L1011.5,343.8 L1012.7,346.0 L1014.0,348.0 L1015.4,349.9 L1016.9,351.7 L1018.6,353.3 L1020.4,354.8 L1022.3,356.1 L1024.4,357.2 L1026.5,358.2 L1028.8,359.0 L1031.2,359.6 L1033.6,360.0 L1036.1,360.3 L1038.7,360.4 L1041.4,360.4 L1044.2,360.1 L1047.0,359.7 L1049.8,359.2 L1052.7,358.4 L1055.6,357.5 L1058.6,356.4 L1061.5,355.2 L1064.5,353.8 L1067.5,352.2 L1070.4,350.5 L1073.4,348.6 L1076.3,346.6 L1079.2,344.5 L1082.0,342.2 L1084.8,339.8 L1087.6,337.3 L1090.3,334.7 L1092.9,332.0 L1095.4,329.1 L1097.8,326.2 L1100.2,323.2 L1102.5,320.2 L1104.6,317.1 L1106.7,313.9 L1108.6,310.7 L1110.4,307.4 L1112.1,304.1 L1113.6,300.8 L1115.0,297.5 L1116.3,294.2 L1117.5,290.8 L1118.4,287.6 L1119.3,284.3 L1120.0,281.0 L1120.5,277.9 L1120.9,274.7 L1121.1,271.6 L1121.2,268.6 Z" fill="#fff" stroke="#1e1e1e" stroke-width="2.1" stroke-linejoin="round"/>
<path d="M1055.0,440.0 L1075.9,428.6 L1074.9,364.0 L1054.1,375.3 Z" fill="#fff"/>
<path d="M1054.1,441.0 L1053.2,381.8" stroke="#1e1e1e" stroke-width="2.1" fill="none"/>
<path d="M1076.8,429.6 L1075.8,370.5" stroke="#1e1e1e" stroke-width="2.1" fill="none"/>
<path d="M991.0,183.7 L988.4,185.1 L985.8,186.5 L983.2,188.0 L980.7,189.6 L978.1,191.3 L975.5,193.0 L973.0,194.9 L970.5,196.8 L968.0,198.8 L965.6,200.8 L963.1,203.0 L960.7,205.1 L958.4,207.4 L956.0,209.7 L953.7,212.1 L951.5,214.5 L949.3,217.0 L947.2,219.5 L945.1,222.1 L943.0,224.7 L941.0,227.4 L939.1,230.1 L937.2,232.8 L935.4,235.6 L933.7,238.4 L932.0,241.2 L930.4,244.0 L928.9,246.9 L927.4,249.8 L926.0,252.7 L924.7,255.6 L923.4,258.5 L922.3,261.4 L921.2,264.3 L920.2,267.2 L919.3,270.0 L918.4,272.9 L917.7,275.8 L917.0,278.6 L916.4,281.4" fill="none" stroke="#1e1e1e" stroke-width="0.9" stroke-dasharray="16,4,3,4"/>
<path d="M915.5,287.5 L870.6,462.4" stroke="#4d4d4d" stroke-width="0.9" fill="none" stroke-dasharray="16,4,3,4"/>
<path d="M695.6,589.9 L793.1,537.4" stroke="#4d4d4d" stroke-width="0.9" fill="none" stroke-dasharray="16,4,3,4"/>
<path d="M793.1,503.4 L872.6,463.7" stroke="#4d4d4d" stroke-width="0.9" fill="none" stroke-dasharray="16,4,3,4"/>
<path d="M793.1,503.4 L793.1,537.4" stroke="#4d4d4d" stroke-width="0.9" fill="none" stroke-dasharray="16,4,3,4"/>
<path d="M991.0,183.7 L1169.7,89.0" stroke="#4d4d4d" stroke-width="0.9" fill="none" stroke-dasharray="16,4,3,4"/>
<path d="M770.4,458.0 L883.9,514.8" stroke="#4d4d4d" stroke-width="0.9" fill="none" stroke-dasharray="16,4,3,4"/>
<path d="M883.9,514.8 L1088.1,412.6" stroke="#4d4d4d" stroke-width="0.9" fill="none" stroke-dasharray="16,4,3,4"/>
<path d="M770.4,458.0 L849.9,418.3" stroke="#4d4d4d" stroke-width="0.9" fill="none" stroke-dasharray="16,4,3,4"/>
<path d="M1088.1,412.6 L1031.4,384.2" stroke="#4d4d4d" stroke-width="0.9" fill="none" stroke-dasharray="16,4,3,4"/>
<path d="M900.0,351.8 L1198.6,227.5" stroke="#4d4d4d" stroke-width="0.9" fill="none" stroke-dasharray="16,4,3,4"/>
<path d="M1065.5,200.0 L1065.5,455.0" stroke="#4d4d4d" stroke-width="0.9" fill="none" stroke-dasharray="16,4,3,4"/>
<path d="M1055.5,212.0 L1055.5,385.0" stroke="#4d4d4d" stroke-width="1.3" fill="none" stroke-dasharray="6,4"/>
<path d="M1078.5,226.0 L1078.5,378.0" stroke="#4d4d4d" stroke-width="1.3" fill="none" stroke-dasharray="6,4"/>
<path d="M1060.0,214.0 L1060.0,300.0" stroke="#4d4d4d" stroke-width="1.0" fill="none" stroke-dasharray="6,4"/>
<path d="M846.7,269.3 L900.0,294.0" stroke="#4d4d4d" stroke-width="1.2" fill="none" stroke-dasharray="6,4"/>
<path d="M904.6,349.4 L976.4,318.2" stroke="#4d4d4d" stroke-width="1.2" fill="none" stroke-dasharray="6,4"/>
<path d="M976.4,318.2 L1012.0,336.0" stroke="#4d4d4d" stroke-width="1.2" fill="none" stroke-dasharray="6,4"/>
<path d="M925.5,310.0 L1006.5,335.5" stroke="#4d4d4d" stroke-width="1.2" fill="none" stroke-dasharray="6,4"/>
<path d="M1006.5,335.5 L1099.0,372.6" stroke="#4d4d4d" stroke-width="1.2" fill="none" stroke-dasharray="6,4"/>
<path d="M895.2,361.5 L974.7,321.8" stroke="#4d4d4d" stroke-width="1.2" fill="none" stroke-dasharray="6,4"/>
<path d="M843.9,50.0 L843.9,258.0" stroke="#4d4d4d" stroke-width="1.3" fill="none"/>
<path d="M843.9,57.0 L979.8,124.2" stroke="#4d4d4d" stroke-width="1.3" fill="none"/><path d="M843.9,57.0 L852.5,58.7 L850.5,62.8 Z" fill="#1e1e1e"/><path d="M979.8,124.2 L971.2,122.5 L973.2,118.4 Z" fill="#1e1e1e"/>
<text transform="translate(906.9,79.5) rotate(26.3)" font-family="Liberation Sans" font-size="13" text-anchor="middle" fill="#1e1e1e" dominant-baseline="central">60</text>
<path d="M979.8,37.4 L979.8,78.0" stroke="#4d4d4d" stroke-width="1.2" fill="none"/>
<ellipse cx="980.5" cy="81.4" rx="6.5" ry="3.6" fill="#fff" stroke="#1e1e1e" stroke-width="1.2"/>
<path d="M973.8,85.5 L987.2,85.5 L980.5,98 Z" fill="#1e1e1e"/>
<text transform="translate(994.0,45.0) rotate(0.0)" font-family="Liberation Sans" font-size="19" text-anchor="middle" fill="#1e1e1e" dominant-baseline="central">T</text>
<path d="M981.8,124.0 L981.8,326.0" stroke="#4d4d4d" stroke-width="1.3" fill="none"/>
<path d="M981.5,124.2 L1142.2,41.1" stroke="#4d4d4d" stroke-width="1.3" fill="none"/><path d="M981.5,124.2 L988.0,118.3 L990.1,122.3 Z" fill="#1e1e1e"/><path d="M1142.2,41.1 L1135.7,47.0 L1133.6,43.0 Z" fill="#1e1e1e"/>
<text transform="translate(1059.0,73.5) rotate(-27.0)" font-family="Liberation Sans" font-size="14" text-anchor="middle" fill="#1e1e1e" dominant-baseline="central">ø70</text>
<path d="M1142.2,37.0 L1142.2,262.0" stroke="#4d4d4d" stroke-width="1.3" fill="none"/>
<path d="M1004.9,139.5 L1120.5,82.9" stroke="#4d4d4d" stroke-width="1.3" fill="none"/><path d="M1004.9,139.5 L1011.5,133.7 L1013.5,137.8 Z" fill="#1e1e1e"/><path d="M1120.5,82.9 L1113.9,88.7 L1111.9,84.6 Z" fill="#1e1e1e"/>
<text transform="translate(1066.4,97.0) rotate(-27.0)" font-family="Liberation Sans" font-size="14" text-anchor="middle" fill="#1e1e1e" dominant-baseline="central">ø 50</text>
<path d="M1004.9,134.0 L1004.9,308.0" stroke="#4d4d4d" stroke-width="1.3" fill="none"/>
<path d="M1120.5,77.0 L1120.5,268.0" stroke="#4d4d4d" stroke-width="1.3" fill="none"/>
<path d="M1169.7,89.0 L1214.0,66.9" stroke="#1e1e1e" stroke-width="2.4" fill="none"/>
<path d="M1233.7,100.0 L1196.0,81.5" stroke="#4d4d4d" stroke-width="1.3" fill="none"/><path d="M1191.5,79.5 L1200.7,81.1 L1198.5,85.8 Z" fill="#1e1e1e"/>
<text transform="translate(1239.0,90.0) rotate(-63.0)" font-family="Liberation Sans" font-size="15" text-anchor="middle" fill="#1e1e1e" dominant-baseline="central">S</text>
<path d="M1192.9,229.5 L1192.9,367.5" stroke="#4d4d4d" stroke-width="1.3" fill="none"/><path d="M1192.9,229.5 L1195.2,238.0 L1190.6,238.0 Z" fill="#1e1e1e"/><path d="M1192.9,367.5 L1190.6,359.0 L1195.2,359.0 Z" fill="#1e1e1e"/>
<path d="M1076.8,429.6 L1199.0,366.4" stroke="#4d4d4d" stroke-width="1.3" fill="none"/>
<text transform="translate(1202.0,293.5) rotate(90.0)" font-family="Liberation Sans" font-size="13" text-anchor="middle" fill="#1e1e1e" dominant-baseline="central">60</text>
<path d="M1127.7,357.7 L1190.0,327.3" stroke="#4d4d4d" stroke-width="1.3" fill="none"/>
<path d="M1021.7,307.0 L1127.7,357.7" stroke="#4d4d4d" stroke-width="1.3" fill="none"/>
<path d="M1040.0,316.0 L1031.9,314.4 L1033.8,310.5 Z" fill="#1e1e1e"/><path d="M1088.5,339.0 L1096.7,340.5 L1094.8,344.4 Z" fill="#1e1e1e"/>
<text transform="translate(1159.0,336.0) rotate(-27.0) scale(0.82,1)" font-family="Liberation Sans" font-size="14" text-anchor="middle" fill="#1e1e1e" dominant-baseline="central">WEB 10 IN</text>
<text transform="translate(1161.0,354.5) rotate(-27.0) scale(0.9,1)" font-family="Liberation Sans" font-size="14" text-anchor="middle" fill="#1e1e1e" dominant-baseline="central">CENTRE</text>
<path d="M862.3,336.5 L935.2,374.2" stroke="#4d4d4d" stroke-width="1.3" fill="none"/>
<path d="M883.0,345.6 L874.8,344.4 L876.6,340.4 Z" fill="#1e1e1e"/><path d="M914.4,362.5 L922.5,364.5 L920.3,368.3 Z" fill="#1e1e1e"/>
<text transform="translate(900.0,346.0) rotate(27.0)" font-family="Liberation Sans" font-size="12" text-anchor="middle" fill="#1e1e1e" dominant-baseline="central">10</text>
<path d="M1035.0,402.0 L1098.0,372.0" stroke="#4d4d4d" stroke-width="1.3" fill="none"/>
<path d="M1054.0,393.0 L1047.7,398.4 L1045.8,394.4 Z" fill="#1e1e1e"/><path d="M1077.0,382.0 L1083.3,376.6 L1085.2,380.5 Z" fill="#1e1e1e"/>
<text transform="translate(1066.0,384.0) rotate(-27.0)" font-family="Liberation Sans" font-size="12" text-anchor="middle" fill="#1e1e1e" dominant-baseline="central">10</text>
<path d="M673.9,388.6 L759.6,344.1" stroke="#4d4d4d" stroke-width="1.3" fill="none"/>
<path d="M759.6,344.1 L766.8,440.0" stroke="#4d4d4d" stroke-width="1.3" fill="none"/><path d="M767.2,447.0 L764.1,438.2 L768.9,437.8 Z" fill="#1e1e1e"/>
<text transform="translate(713,361.5) rotate(-27.4)" font-family="Liberation Sans" font-size="12.5" font-style="italic" text-anchor="middle" fill="#1e1e1e" letter-spacing="1.2" dominant-baseline="central">4  HOLES ø10</text>
<path d="M702.4,458.0 L666.1,439.8" stroke="#4d4d4d" stroke-width="1.3" fill="none"/>
<path d="M861.2,458.0 L743.2,399.0" stroke="#4d4d4d" stroke-width="1.3" fill="none"/>
<path d="M672.9,443.2 L752.3,403.5" stroke="#4d4d4d" stroke-width="1.3" fill="none"/><path d="M672.9,443.2 L679.5,437.4 L681.5,441.5 Z" fill="#1e1e1e"/><path d="M752.3,403.5 L745.7,409.4 L743.7,405.3 Z" fill="#1e1e1e"/>
<text transform="translate(703.0,417.0) rotate(-27.0)" font-family="Liberation Sans" font-size="13" text-anchor="middle" fill="#1e1e1e" dominant-baseline="central">35</text>
<path d="M702.4,458.0 L664.0,440.0" stroke="#4d4d4d" stroke-width="1.3" fill="none"/>
<path d="M702.4,492.0 L664.0,475.0" stroke="#4d4d4d" stroke-width="1.3" fill="none"/>
<path d="M669.0,441.5 L669.0,476.0" stroke="#4d4d4d" stroke-width="1.3" fill="none"/><path d="M669.0,441.5 L671.3,450.0 L666.7,450.0 Z" fill="#1e1e1e"/><path d="M669.0,476.0 L666.7,467.5 L671.3,467.5 Z" fill="#1e1e1e"/>
<text transform="translate(660.5,458.0) rotate(-90.0)" font-family="Liberation Sans" font-size="12" text-anchor="middle" fill="#1e1e1e" dominant-baseline="central">15</text>
<path d="M770.4,458.0 L736.4,475.0" stroke="#4d4d4d" stroke-width="0.9" fill="none" stroke-dasharray="16,4,3,4"/>
<path d="M736.4,475.0 L736.4,556.0" stroke="#4d4d4d" stroke-width="1.0" fill="none" stroke-dasharray="8,3,2,3"/>
<path d="M883.9,514.8 L849.9,531.8" stroke="#4d4d4d" stroke-width="0.9" fill="none" stroke-dasharray="16,4,3,4"/>
<path d="M849.9,531.8 L849.9,611.0" stroke="#4d4d4d" stroke-width="1.0" fill="none" stroke-dasharray="8,3,2,3"/>
<path d="M736.4,551.2 L849.9,606.5" stroke="#4d4d4d" stroke-width="1.3" fill="none"/><path d="M736.4,551.2 L745.1,552.9 L743.0,557.0 Z" fill="#1e1e1e"/><path d="M849.9,606.5 L841.2,604.8 L843.2,600.7 Z" fill="#1e1e1e"/>
<text transform="translate(788.3,567.0) rotate(26.0)" font-family="Liberation Sans" font-size="13" text-anchor="middle" fill="#1e1e1e" dominant-baseline="central">50</text>
<path d="M700.6,493.0 L700.6,576.0" stroke="#4d4d4d" stroke-width="1.3" fill="none"/>
<path d="M884.5,582.0 L884.5,667.0" stroke="#4d4d4d" stroke-width="1.3" fill="none"/>
<path d="M700.6,571.9 L884.5,660.4" stroke="#4d4d4d" stroke-width="1.3" fill="none"/><path d="M700.6,571.9 L709.3,573.5 L707.3,577.7 Z" fill="#1e1e1e"/><path d="M884.5,660.4 L875.8,658.8 L877.8,654.6 Z" fill="#1e1e1e"/>
<text transform="translate(789.7,606.0) rotate(26.0)" font-family="Liberation Sans" font-size="13" text-anchor="middle" fill="#1e1e1e" dominant-baseline="central">80</text>
<path d="M699.8,665.4 L741.3,643.8" stroke="#4d4d4d" stroke-width="1.3" fill="none"/>
<circle cx="746.5" cy="642.6" r="4.8" fill="#fff" stroke="#1e1e1e" stroke-width="1.3"/>
<path d="M764,633 L748.5,637.2 L752.5,646 Z" fill="#1e1e1e"/>
<text transform="translate(704.0,650.0) rotate(-12.0)" font-family="Liberation Sans" font-size="17" text-anchor="middle" fill="#1e1e1e" dominant-baseline="central">L</text>
<path d="M655.5,610.6 L695.6,589.9" stroke="#1e1e1e" stroke-width="2.4" fill="none"/>
<path d="M716.4,620.3 L684.0,604.5" stroke="#4d4d4d" stroke-width="1.3" fill="none"/><path d="M679.0,602.3 L688.2,603.9 L686.0,608.5 Z" fill="#1e1e1e"/>
<text transform="translate(700.0,622.0) rotate(-63.0)" font-family="Liberation Sans" font-size="14" text-anchor="middle" fill="#1e1e1e" dominant-baseline="central">S</text>
<path d="M952.9,551.0 L952.9,588.0" stroke="#4d4d4d" stroke-width="1.3" fill="none"/>
<path d="M1087.6,475.0 L1087.6,519.0" stroke="#4d4d4d" stroke-width="1.3" fill="none"/>
<path d="M952.9,578.6 L1087.6,514.0" stroke="#4d4d4d" stroke-width="1.3" fill="none"/><path d="M952.9,578.6 L959.6,572.9 L961.6,577.0 Z" fill="#1e1e1e"/><path d="M1087.6,514.0 L1080.9,519.7 L1078.9,515.6 Z" fill="#1e1e1e"/>
<text transform="translate(1018.8,539.5) rotate(-26.0)" font-family="Liberation Sans" font-size="13" text-anchor="middle" fill="#1e1e1e" dominant-baseline="central">60</text>
<path d="M917.9,531.8 L917.9,629.0" stroke="#4d4d4d" stroke-width="1.0" fill="none" stroke-dasharray="8,3,2,3"/>
<path d="M1088.1,412.6 L1122.1,429.6" stroke="#4d4d4d" stroke-width="1.0" fill="none" stroke-dasharray="16,4,3,4"/>
<path d="M1122.1,429.6 L1122.1,526.0" stroke="#4d4d4d" stroke-width="1.0" fill="none" stroke-dasharray="8,3,2,3"/>
<path d="M919.9,619.8 L1120.6,520.9" stroke="#4d4d4d" stroke-width="1.3" fill="none"/><path d="M919.9,619.8 L926.5,614.0 L928.5,618.1 Z" fill="#1e1e1e"/><path d="M1120.6,520.9 L1114.0,526.7 L1112.0,522.6 Z" fill="#1e1e1e"/>
<text transform="translate(1023.0,559.0) rotate(-26.0)" font-family="Liberation Sans" font-size="13" text-anchor="middle" fill="#1e1e1e" dominant-baseline="central">90</text>
<path d="M1156.2,447.0 L1156.2,531.0" stroke="#4d4d4d" stroke-width="1.3" fill="none"/>
<path d="M888.0,660.0 L1155.0,526.4" stroke="#4d4d4d" stroke-width="1.3" fill="none"/><path d="M888.0,660.0 L894.6,654.1 L896.6,658.3 Z" fill="#1e1e1e"/><path d="M1155.0,526.4 L1148.4,532.3 L1146.4,528.1 Z" fill="#1e1e1e"/>
<text transform="translate(1028.5,578.0) rotate(-26.0)" font-family="Liberation Sans" font-size="13" text-anchor="middle" fill="#1e1e1e" dominant-baseline="central">120</text>
<path d="M1137.0,638.0 L1180.0,660.0" stroke="#4d4d4d" stroke-width="1.3" fill="none"/>
<circle cx="1133" cy="635" r="4.8" fill="#fff" stroke="#1e1e1e" stroke-width="1.3"/>
<path d="M1113.5,624 L1127.5,628.5 L1123.5,637.5 Z" fill="#1e1e1e"/>
<text transform="translate(1174.0,640.0) rotate(-12.0)" font-family="Liberation Sans" font-size="17" text-anchor="middle" fill="#1e1e1e" dominant-baseline="central">F</text>
<path d="M1210.7,387.4 L1210.7,435.2" stroke="#4d4d4d" stroke-width="1.3" fill="none"/><path d="M1210.7,404.0 L1208.4,395.5 L1213.0,395.5 Z" fill="#1e1e1e"/><path d="M1210.7,416.5 L1213.0,425.0 L1208.4,425.0 Z" fill="#1e1e1e"/>
<path d="M1088.1,469.3 L1216.0,404.5" stroke="#4d4d4d" stroke-width="1.3" fill="none"/>
<path d="M1088.1,480.7 L1216.0,416.0" stroke="#4d4d4d" stroke-width="1.3" fill="none"/>
<text transform="translate(1221.0,407.0) rotate(-63.0)" font-family="Liberation Sans" font-size="12" text-anchor="middle" fill="#1e1e1e" dominant-baseline="central">5</text>
<path d="M1172.1,488.6 L1240.1,454.6" stroke="#4d4d4d" stroke-width="1.3" fill="none"/><path d="M1172.1,488.6 L1178.6,482.8 L1180.7,486.9 Z" fill="#1e1e1e"/><path d="M1240.1,454.6 L1233.6,460.5 L1231.5,456.3 Z" fill="#1e1e1e"/>
<path d="M1065.4,435.3 L1181.1,493.2" stroke="#4d4d4d" stroke-width="1.0" fill="none" stroke-dasharray="16,4,3,4"/>
<path d="M1156.2,412.6 L1249.2,459.1" stroke="#4d4d4d" stroke-width="1.3" fill="none"/>
<text transform="translate(1201.0,464.0) rotate(-27.0)" font-family="Liberation Sans" font-size="13" text-anchor="middle" fill="#1e1e1e" dominant-baseline="central">30</text>
<text x="1055" y="680" font-family="Liberation Sans" font-size="15.5" font-style="italic" fill="#4a4a4a" textLength="190" lengthAdjust="spacingAndGlyphs">All Dimensions in mm</text>
<path d="M1239.5,666.5 Q1237.5,664.2 1240.5,665.2 L1255.5,673.8 Q1258,675.8 1255.5,677.6 L1240.5,686.6 Q1237.5,688.2 1237.8,685 Z" fill="#4f0e96" stroke="#4f0e96" stroke-width="1.5" stroke-linejoin="round"/>
<path d="M1260.5,666 Q1259.5,664.2 1262,665.2 L1276.5,674 Q1278.5,675.8 1276.5,677.4 L1262,686.6 Q1259.5,688.2 1259.5,685.5 Z" fill="#a3a3a3" stroke="#a3a3a3" stroke-width="1.5" stroke-linejoin="round"/>
</svg>
</body></html>
